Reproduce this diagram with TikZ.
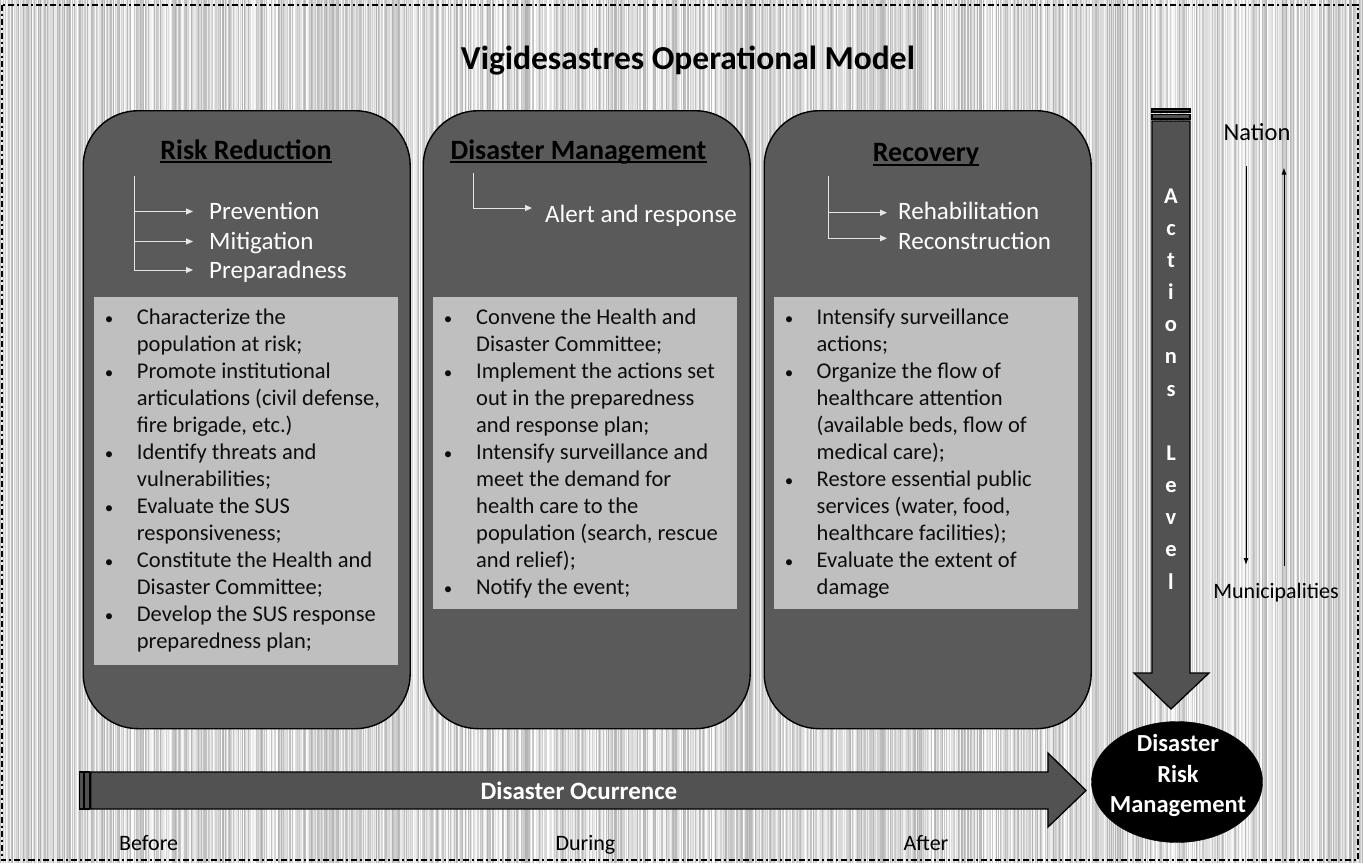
\documentclass[tikz,border=0pt]{standalone}
\usepackage{fontspec}
\setmainfont{Carlito}
\usetikzlibrary{arrows.meta,shapes.geometric}
\definecolor{panelgray}{HTML}{5A5A5A}
\definecolor{boxgray}{HTML}{BFBFBF}
\definecolor{arrowgray}{HTML}{525252}
\definecolor{subline}{HTML}{E6E6E6}
\begin{document}
\begin{tikzpicture}[x=1pt,y=-1pt,
  panel/.style={draw=black, line width=1.4pt, fill=panelgray, rounded corners=55pt,
    minimum width=327pt, minimum height=618pt, anchor=north west, inner sep=0pt},
  innerbox/.style={fill=boxgray, draw=none, anchor=north west, inner sep=0pt, minimum width=304pt},
  ptitle/.style={font=\fontsize{28}{32}\selectfont\bfseries, anchor=base, inner sep=0pt, text=black},
  uline/.style={line width=1.8pt, black},
  subitem/.style={font=\fontsize{25}{30}\selectfont, text=white, anchor=base west, inner sep=0pt},
  subarrow/.style={draw=subline, line width=1pt, -{Triangle[length=7pt,width=6pt]}},
  body/.style={font=\fontsize{22.5}{27}\selectfont, anchor=base west, inner sep=0pt, text=black!95},
  bul/.style={font=\fontsize{17}{27}\selectfont, anchor=base, inner sep=0pt, text=black!95},
  bigarrow/.style={fill=arrowgray, draw=black, line width=1.3pt, line join=miter},
  act/.style={font=\fontsize{22.5}{24}\selectfont\bfseries, text=white, anchor=base, inner sep=0pt},
  plain/.style={font=\fontsize{22}{26}\selectfont, text=black, anchor=base, inner sep=0pt},
  levelarrow/.style={line width=1pt, black, -{Latex[length=7pt,width=5pt]}}
]
\useasboundingbox (0,0) rectangle (1363,863);
% striped background
\fill[white] (0,0) rectangle (1363,863);
\pgfmathsetseed{7}
\foreach \i in {0,...,1362} {
  \pgfmathsetmacro{\g}{random(0,30)}
  \fill[black!\g] (\i,0) rectangle ({\i+1},863);
}
% dash-dot frame
\draw[line width=2pt, dash pattern=on 6pt off 3pt on 2pt off 3pt] (2,4.5) rectangle (1357.5,860);

% title
\node[font=\fontsize{33.5}{38}\selectfont\bfseries, anchor=base, inner sep=0pt] (title) at (688,69) {Vigidesastres Operational Model};

% panels
\node[panel] (p1) at (82.5,110) {};
\node[panel] (p2) at (422.5,110) {};
\node[panel] (p3) at (763.5,110) {};

\node[innerbox, minimum height=368pt] (b1) at (94,297) {};
\node[innerbox, minimum height=312pt] (b2) at (433,297) {};
\node[innerbox, minimum height=312pt] (b3) at (774,297) {};

% panel titles
\node[ptitle] (t1) at (246,159) {Risk Reduction};
\draw[uline] ([yshift=-3pt]t1.base west) -- ([yshift=-3pt]t1.base east);
\node[ptitle] (t2) at (578.5,159) {Disaster Management};
\draw[uline] ([yshift=-3pt]t2.base west) -- ([yshift=-3pt]t2.base east);
\node[ptitle] (t3) at (926,161) {Recovery};
\draw[uline] ([yshift=-4pt]t3.base west) -- ([yshift=-4pt]t3.base east);

% sub items panel 1
\node[subitem] (s11) at (209,219) {Prevention};
\node[subitem] (s12) at (209,249) {Mitigation};
\node[subitem] (s13) at (209,278) {Preparadness};
\coordinate (v1) at (134.7,176);
\draw[subarrow] (v1) |- ([xshift=-16pt,yshift=7.5pt]s11.base west);
\draw[subarrow] (v1) |- ([xshift=-16pt,yshift=7.5pt]s12.base west);
\draw[subarrow] (v1) |- ([xshift=-16pt,yshift=8pt]s13.base west);

% sub items panel 2
\node[subitem] (s21) at (545,222) {Alert and response};
\coordinate (v2) at (473,173);
\draw[subarrow] (v2) |- ([xshift=-13pt,yshift=14pt]s21.base west);

% sub items panel 3
\node[subitem] (s31) at (898,219.3) {Rehabilitation};
\node[subitem] (s32) at (898,249) {Reconstruction};
\coordinate (v3) at (828,176);
\draw[subarrow] (v3) |- ([xshift=-11pt,yshift=6.6pt]s31.base west);
\draw[subarrow] (v3) |- ([xshift=-11pt,yshift=10.7pt]s32.base west);

% body texts panel 1
\foreach \t [count=\k] in {Characterize the, population at risk;, Promote institutional,
  {articulations (civil defense,}, {fire brigade, etc.)}, Identify threats and, vulnerabilities;,
  Evaluate the SUS, responsiveness;, Constitute the Health and, Disaster Committee;,
  Develop the SUS response, preparedness plan;}
  \node[body] (a\k) at (136.7,{324+27*(\k-1)}) {\t};
\foreach \k in {1,3,6,8,10,12}
  \node[bul] (ab\k) at (109,{324+27*(\k-1)}) {\textbullet};

% body texts panel 2
\foreach \t [count=\k] in {Convene the Health and, Disaster Committee;, Implement the actions set,
  out in the preparedness, and response plan;, Intensify surveillance and, meet the demand for,
  health care to the, {population (search, rescue}, and relief);, Notify the event;}
  \node[body] (m\k) at (476,{324+27*(\k-1)}) {\t};
\foreach \k in {1,3,6,11}
  \node[bul] (mb\k) at (448,{324+27*(\k-1)}) {\textbullet};

% body texts panel 3
\foreach \t [count=\k] in {Intensify surveillance, actions;, Organize the flow of,
  healthcare attention, {(available beds, flow of}, medical care);, Restore essential public,
  {services (water, food,}, healthcare facilities);, Evaluate the extent of, damage}
  \node[body] (r\k) at (816.5,{324+27*(\k-1)}) {\t};
\foreach \k in {1,3,7,10}
  \node[bul] (rb\k) at (789,{324+27*(\k-1)}) {\textbullet};

% vertical "Actions Level" arrow
\draw[bigarrow] (1152,109) rectangle (1190,112);
\draw[bigarrow] (1152,114.5) rectangle (1190,119);
\draw[bigarrow] (1152,121) -- (1190,121) -- (1190,673) -- (1209,673) -- (1171,709)
  -- (1134,673) -- (1152,673) -- cycle;
\foreach \L [count=\k from 0] in {A,c,t,i,o,n,s,{},L,e,v,e,l}
  \node[act] (act\k) at (1171,{203+32.17*\k}) {\L};

% Nation / Municipalities
\node[plain, font=\fontsize{24.5}{28}\selectfont] (nation) at (1257,140) {Nation};
\node[plain] (muni) at (1276,598) {Municipalities};
\coordinate (d1) at (1246,166);
\coordinate (d2) at (1246,565);
\coordinate (u1) at (1284,566);
\coordinate (u2) at (1284,167.5);
\draw[levelarrow] (d1) -- (d2);
\draw[levelarrow] (u1) -- (u2);

% horizontal "Disaster Ocurrence" arrow
\draw[bigarrow] (79.3,772) rectangle (83.3,809);
\draw[bigarrow] (84.8,772) rectangle (89.3,809);
\draw[bigarrow] (90.8,772) -- (1048,772) -- (1048,753) -- (1086,790.5) -- (1048,827)
  -- (1048,809) -- (90.8,809) -- cycle;
\node[font=\fontsize{25}{30}\selectfont\bfseries, text=white, anchor=base, inner sep=0pt] (occ) at (579,799) {Disaster Ocurrence};

% Disaster Risk Management ellipse
\node[ellipse, fill=black, draw=black, minimum width=171pt, minimum height=121pt, inner sep=0pt] (drm) at (1177,782) {};
\node[font=\fontsize{24.5}{30.5}\selectfont\bfseries, text=white, align=center, inner sep=0pt] (drmt) at (1178,775.7) {Disaster\\Risk\\Management};

% time labels
\node[plain, anchor=base west] (before) at (119,850) {Before};
\node[plain] (during) at (585.5,850) {During};
\node[plain] (after) at (926,850) {After};
\end{tikzpicture}
\end{document}
